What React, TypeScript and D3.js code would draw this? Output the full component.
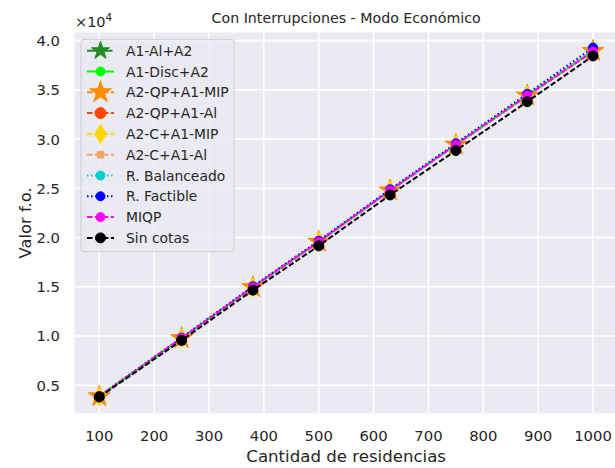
import React from "react";
import * as d3 from "d3";

const xValues = [100, 250, 380, 500, 630, 750, 880, 1000];
const a1AlA2 = [3870, 9780, 14960, 19570, 24780, 29430, 34420, 38950];
const a1DiscA2 = [3870, 9780, 14960, 19570, 24780, 29430, 34420, 38950];
const a2QpA1Mip = [3870, 9780, 14960, 19570, 24780, 29430, 34420, 38950];
const a2QpA1Al = [3870, 9780, 14960, 19570, 24780, 29430, 34420, 38950];
const a2CA1Mip = [3870, 9780, 14960, 19570, 24780, 29430, 34420, 38950];
const a2CA1Al = [3870, 9780, 14960, 19570, 24780, 29430, 34420, 38950];
const rBalanceado = [3880, 9800, 14990, 19610, 24830, 29480, 34480, 39050];
const rFactible = [3900, 9840, 15050, 19680, 24900, 29570, 34600, 39300];
const miqp = [3870, 9780, 14960, 19570, 24780, 29430, 34420, 38900];
const sinCotas = [3810, 9560, 14660, 19160, 24330, 28840, 33800, 38450];

const seriesNames = [
  "A1-Al+A2",
  "A1-Disc+A2",
  "A2-QP+A1-MIP",
  "A2-QP+A1-Al",
  "A2-C+A1-MIP",
  "A2-C+A1-Al",
  "R. Balanceado",
  "R. Factible",
  "MIQP",
  "Sin cotas",
];
const seriesValues = [a1AlA2, a1DiscA2, a2QpA1Mip, a2QpA1Al, a2CA1Mip, a2CA1Al, rBalanceado, rFactible, miqp, sinCotas];

const xTicks = [100, 200, 300, 400, 500, 600, 700, 800, 900, 1000];
const yTicks = [5000, 10000, 15000, 20000, 25000, 30000, 35000, 40000];

type Style = { color: string; dash: string; marker: string; size: number };
const styles: Style[] = [
  { color: "#228b22", dash: "9.6,2.4,1.5,2.4", marker: "star", size: 9.5 },
  { color: "#00ff00", dash: "", marker: "circle", size: 4.5 },
  { color: "#ff8c00", dash: "5.55,2.4", marker: "star", size: 11.5 },
  { color: "#ff4500", dash: "5.55,2.4", marker: "circle", size: 5.5 },
  { color: "#ffd700", dash: "5.55,2.4", marker: "diamond", size: 9.5 },
  { color: "#f4a460", dash: "5.55,2.4", marker: "square", size: 3.2 },
  { color: "#00ced1", dash: "1.5,2.5", marker: "circle", size: 4.5 },
  { color: "#0000ff", dash: "1.5,2.5", marker: "circle", size: 4.5 },
  { color: "#ff00ff", dash: "5.55,2.4", marker: "circle", size: 4.5 },
  { color: "#000000", dash: "5.55,2.4", marker: "circle", size: 5 },
];

const W = 615;
const H = 468;
const plotLeft = 74.6;
const plotRight = 617.7;
const plotTop = 32.5;
const plotBottom = 413.3;
const textColor = "#262626";
const font = "DejaVu Sans, sans-serif";

function markerPath(kind: string, s: number): string {
  if (kind === "circle") {
    return `M${s},0A${s},${s},0,1,1,${-s},0A${s},${s},0,1,1,${s},0Z`;
  }
  if (kind === "square") {
    return `M${-s},${-s}L${s},${-s}L${s},${s}L${-s},${s}Z`;
  }
  if (kind === "diamond") {
    const w = s * 0.62;
    return `M0,${-s}L${w},0L0,${s}L${-w},0Z`;
  }
  const pts: string[] = [];
  const inner = s * 0.381966;
  for (let i = 0; i < 10; i++) {
    const r = i % 2 === 0 ? s : inner;
    const a = -Math.PI / 2 + (i * Math.PI) / 5;
    pts.push(`${(r * Math.cos(a)).toFixed(2)},${(r * Math.sin(a)).toFixed(2)}`);
  }
  return "M" + pts.join("L") + "Z";
}

export default function App() {
  const x = d3.scaleLinear().domain([55, 1045]).range([plotLeft, plotRight]);
  const y = d3.scaleLinear().domain([2154, 40830]).range([plotBottom, plotTop]);
  const line = d3
    .line<number>()
    .x((_, i) => x(xValues[i]))
    .y((d) => y(d));

  const legX = 81;
  const legY = 39.3;
  const legW = 153;
  const legH = 212.4;
  const rowY0 = 50.7;
  const rowStep = 20.8;

  return (
    <svg
      width={W}
      height={H}
      style={{ position: "absolute", left: 0, top: 0, background: "#ffffff" }}
      fontFamily={font}
    >
      <defs>
        <clipPath id="plotclip">
          <rect x={plotLeft} y={plotTop} width={plotRight - plotLeft} height={plotBottom - plotTop} />
        </clipPath>
      </defs>
      <rect x={plotLeft} y={plotTop} width={plotRight - plotLeft} height={plotBottom - plotTop} fill="#eaeaf2" />
      {xTicks.map((t) => (
        <line key={"gx" + t} x1={x(t)} x2={x(t)} y1={plotTop} y2={plotBottom} stroke="#ffffff" strokeWidth={1.6} />
      ))}
      {yTicks.map((t) => (
        <line key={"gy" + t} x1={plotLeft} x2={plotRight} y1={y(t)} y2={y(t)} stroke="#ffffff" strokeWidth={1.6} />
      ))}
      <g clipPath="url(#plotclip)">
        {seriesValues.map((vals, si) => {
          const st = styles[si];
          return (
            <g key={"s" + si}>
              <path
                d={line(vals) || ""}
                fill="none"
                stroke={st.color}
                strokeWidth={2}
                strokeDasharray={st.dash || undefined}
              />
              {vals.map((v, i) => (
                <path
                  key={i}
                  d={markerPath(st.marker, st.size)}
                  transform={`translate(${x(xValues[i])},${y(v)})`}
                  fill={st.color}
                  stroke={st.color}
                  strokeWidth={1}
                />
              ))}
            </g>
          );
        })}
      </g>
      {xTicks.map((t) => (
        <text key={"tx" + t} x={x(t)} y={441} textAnchor="middle" fontSize={14.8} fill={textColor}>
          {t}
        </text>
      ))}
      {yTicks.map((t) => (
        <text key={"ty" + t} x={60} y={y(t) + 5.4} textAnchor="end" fontSize={14.8} fill={textColor}>
          {(t / 10000).toFixed(1)}
        </text>
      ))}
      <text x={75} y={27} fontSize={14.5} fill={textColor}>
        ×10
        <tspan dy={-6} fontSize={10.5}>
          4
        </tspan>
      </text>
      <text x={(plotLeft + plotRight) / 2} y={23} textAnchor="middle" fontSize={14.2} fill={textColor}>
        Con Interrupciones - Modo Económico
      </text>
      <text x={(plotLeft + plotRight) / 2} y={462} textAnchor="middle" fontSize={16.6} fill={textColor}>
        Cantidad de residencias
      </text>
      <text
        transform={`translate(30.5,${(plotTop + plotBottom) / 2}) rotate(-90)`}
        textAnchor="middle"
        fontSize={16.4}
        fill={textColor}
      >
        Valor f.o.
      </text>
      <g>
        <rect
          x={legX}
          y={legY}
          width={legW}
          height={legH}
          rx={3}
          fill="#eaeaf2"
          fillOpacity={0.8}
          stroke="#cccccc"
          strokeWidth={1}
        />
        {seriesNames.map((name, i) => {
          const st = styles[i];
          const cy = rowY0 + i * rowStep;
          return (
            <g key={"l" + i}>
              <line
                x1={87}
                x2={114}
                y1={cy}
                y2={cy}
                stroke={st.color}
                strokeWidth={2}
                strokeDasharray={st.dash || undefined}
              />
              <path
                d={markerPath(st.marker, st.size)}
                transform={`translate(100.5,${cy})`}
                fill={st.color}
                stroke={st.color}
                strokeWidth={1}
              />
              <text x={126} y={cy + 5} fontSize={13.9} fill={textColor}>
                {name}
              </text>
            </g>
          );
        })}
      </g>
    </svg>
  );
}
